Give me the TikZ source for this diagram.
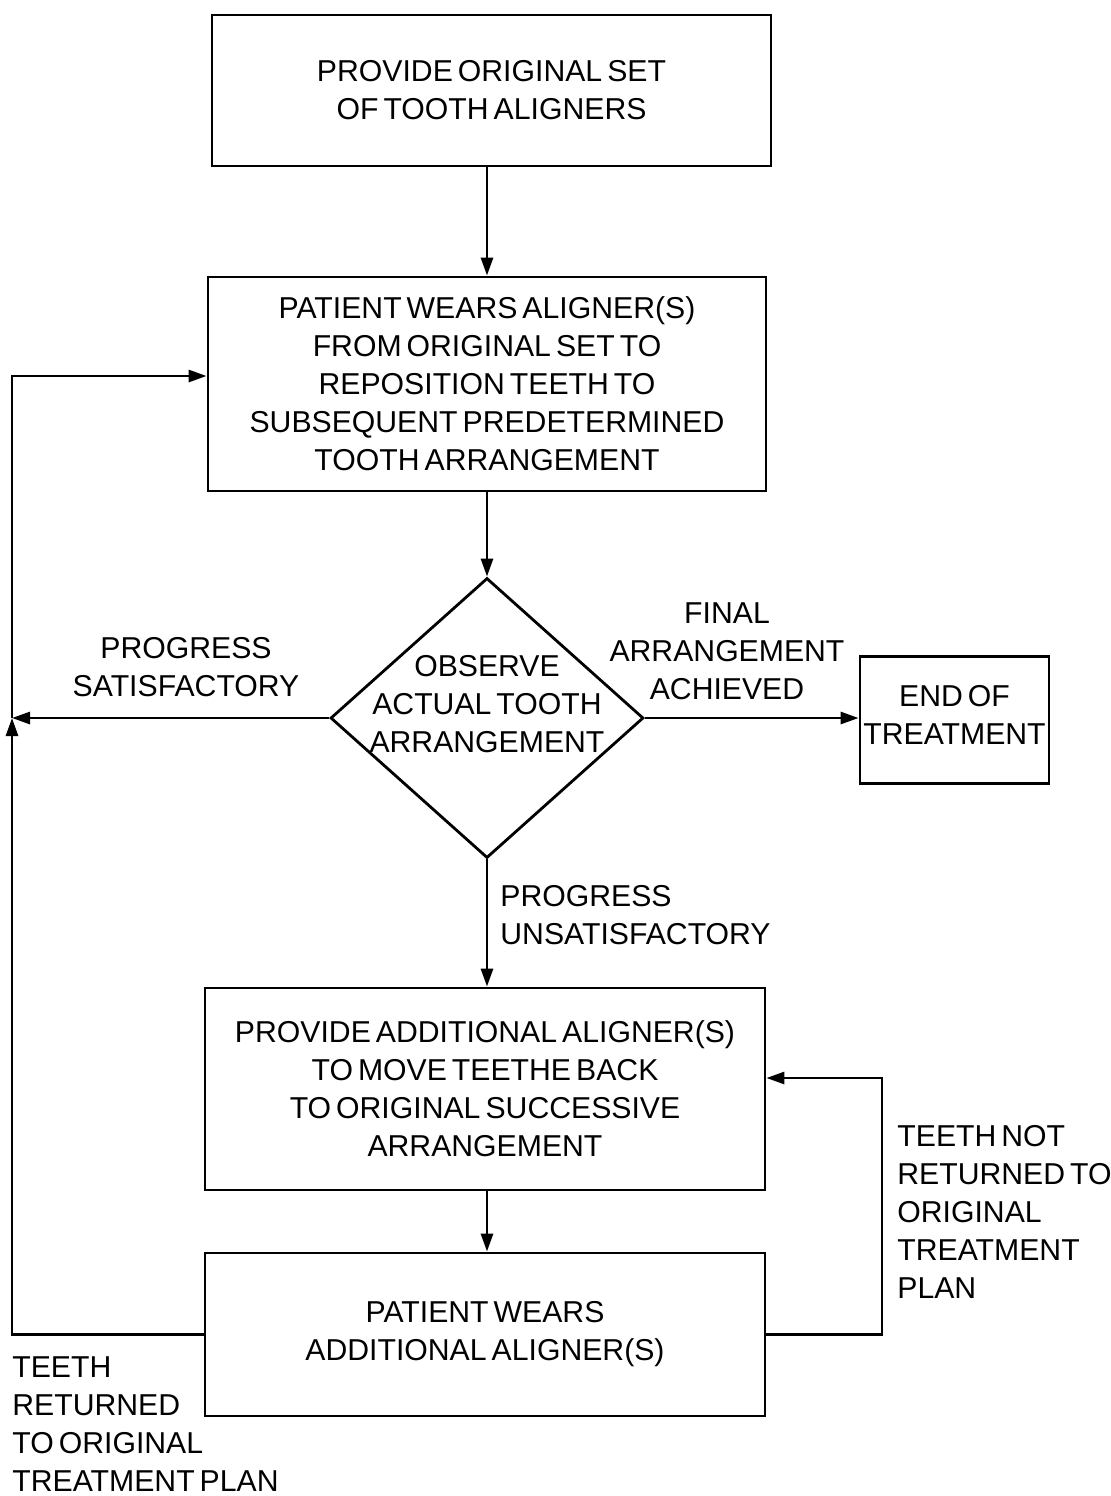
\documentclass[tikz,border=0pt]{standalone}
\usepackage{fontspec}
\setmainfont{Liberation Sans}[WordSpace=0.6]
\usetikzlibrary{shapes.geometric,arrows.meta}

\begin{document}
\begin{tikzpicture}[x=0.5pt, y=-0.5pt,
		box/.style={draw, line width=1.4pt, align=center, inner sep=0pt},
		lbl/.style={align=center, inner sep=0pt},
		arr/.style={-{Triangle[length=9pt,width=6pt]}, line width=1.4pt},
		every node/.style={font=\fontsize{15.1}{19}\selectfont}]
		\useasboundingbox (0,0) rectangle (1111,1496);
		
		\node[box, minimum width=279.5pt, minimum height=75.5pt] (provide) at (491.5,90.5) {PROVIDE ORIGINAL SET\\OF TOOTH ALIGNERS};
		\node[box, minimum width=279pt, minimum height=107pt] (wears) at (487,384) {PATIENT WEARS ALIGNER(S)\\FROM ORIGINAL SET TO\\REPOSITION TEETH TO\\SUBSEQUENT PREDETERMINED\\TOOTH ARRANGEMENT};
		\node[draw, diamond, line width=1.4pt, minimum width=156.5pt, minimum height=140pt, inner sep=0pt] (observe) at (487,718) {};
		\node[lbl] (observetext) at (487,704) {OBSERVE\\ACTUAL TOOTH\\ARRANGEMENT};
		\node[box, minimum width=94.5pt, minimum height=63.5pt, text depth=5pt] (finish) at (954.5,720) {END OF\\TREATMENT};
		\node[box, minimum width=280pt, minimum height=101pt] (additional) at (485,1089) {PROVIDE ADDITIONAL ALIGNER(S)\\TO MOVE TEETHE BACK\\TO ORIGINAL SUCCESSIVE\\ARRANGEMENT};
		\node[box, minimum width=280pt, minimum height=81.5pt] (wearsadd) at (485,1334.5) {PATIENT WEARS\\ADDITIONAL ALIGNER(S)};
		
		\node[lbl] (satis) at (186,667) {PROGRESS\\SATISFACTORY};
		\node[lbl] (achieved) at (727,651) {FINAL\\ARRANGEMENT\\ACHIEVED};
		\node[lbl, anchor=west, align=left] (unsatis) at (500,915) {PROGRESS\\UNSATISFACTORY};
		\node[lbl, anchor=west, align=left] (notreturned) at (897,1212) {TEETH NOT\\RETURNED TO\\ORIGINAL\\TREATMENT\\PLAN};
		\node[lbl, anchor=west, align=left] (returned) at (12,1424) {TEETH\\RETURNED\\TO ORIGINAL\\TREATMENT PLAN};
		
		\coordinate (join) at (12,718);
		\coordinate (back) at (882,1078);
		
		\draw[arr] (provide.south -| wears.north) -- (wears.north);
		\draw[arr] (wears.south) -- (observe.north);
		\draw[arr] (observe.east) -- (observe.east -| finish.west);
		\draw[arr] (observe.west) -- (join);
		\draw[arr] (observe.south) -- (observe.south |- additional.north);
		\draw[arr] (additional.south -| observe.south) -- (observe.south |- wearsadd.north);
		\draw[arr] (wearsadd.west) -| (join);
		\draw[arr] (join) |- ([yshift=4pt]wears.west);
		\draw[arr] (wearsadd.east) -| (back) -- (back -| additional.east);
		\end{tikzpicture}
\end{document}
